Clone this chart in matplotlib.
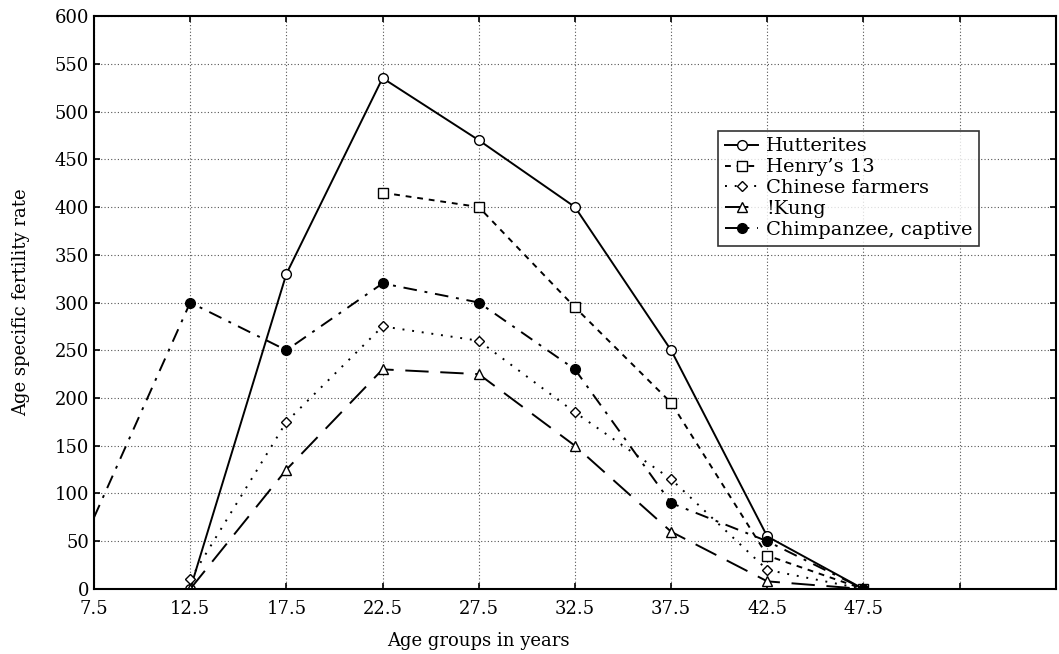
import numpy as np
import matplotlib
matplotlib.use("Agg")
from matplotlib import pyplot as plt

plt.rcParams['font.family'] = ['DejaVu Serif']
plt.rcParams['mathtext.fontset'] = 'dejavuserif'

## data
ages = [12.5, 17.5, 22.5, 27.5, 32.5, 37.5, 42.5, 47.5]
hutterites = [0, 330, 535, 470, 400, 250, 55, 0]
henry_ages = [22.5, 27.5, 32.5, 37.5, 42.5, 47.5]
henry13 = [415, 400, 295, 195, 35, 0]
chinese = [10, 175, 275, 260, 185, 115, 20, 0]
kung = [0, 125, 230, 225, 150, 60, 8, 0]
chimp_ages = [7.5, 12.5, 17.5, 22.5, 27.5, 32.5, 37.5, 42.5, 47.5]
chimp = [75, 300, 250, 320, 300, 230, 90, 50, 0]

fig = plt.figure(figsize=(10.59, 6.54), dpi=100)
ax = fig.add_axes([0.0888, 0.0994, 0.9082, 0.8761])

ms = 7
ax.plot(ages, hutterites, '-', color='black', lw=1.4, marker='o', ms=ms,
        mfc='white', mec='black', label='Hutterites')
ax.plot(henry_ages, henry13, color='black', lw=1.4, ls=(0, (3, 3)), marker='s',
        ms=ms, mfc='white', mec='black', label='Henry\u2019s 13')
ax.plot(ages, chinese, color='black', lw=1.4, ls=(0, (1, 4)), marker='D',
        ms=5.5, mfc='white', mec='black', label='Chinese farmers')
ax.plot(ages, kung, color='black', lw=1.4, ls=(0, (12, 6)), marker='^',
        ms=ms, mfc='white', mec='black', label='!Kung')
ax.plot(chimp_ages, chimp, color='black', lw=1.4, ls=(0, (7, 4, 1.5, 4)), marker='o',
        ms=ms, mfc='black', mec='black', markevery=list(range(1, len(chimp_ages))),
        label='Chimpanzee, captive')

ax.set_xlim(7.5, 57.5)
ax.set_ylim(0, 600)
xt = np.arange(7.5, 57.6, 5)
ax.set_xticks(xt)
ax.set_xticklabels([f'{v:.1f}' if v < 50 else '' for v in xt])
ax.set_yticks(np.arange(0, 601, 50))
ax.tick_params(direction='in', top=True, right=True, labelsize=13, length=4, width=1.2)
ax.tick_params(axis='x', pad=8)
ax.grid(True, ls=(0, (1, 2)), color='#555555', lw=0.8)
for s in ax.spines.values():
    s.set_linewidth(1.5)

ax.set_ylabel('Age specific fertility rate', fontsize=13, labelpad=18)
ax.set_xlabel('Age groups in years', fontsize=13)
ax.xaxis.set_label_coords(0.40, -0.075)

leg = ax.legend(loc='upper left', bbox_to_anchor=(0.649, 0.80), fontsize=14,
                frameon=True, fancybox=False, edgecolor='black', borderaxespad=0,
                handlelength=1.7, handletextpad=0.4, labelspacing=0.15,
                borderpad=0.35)
leg.get_frame().set_linewidth(1.2)

fig.savefig('out.png', dpi=100)
